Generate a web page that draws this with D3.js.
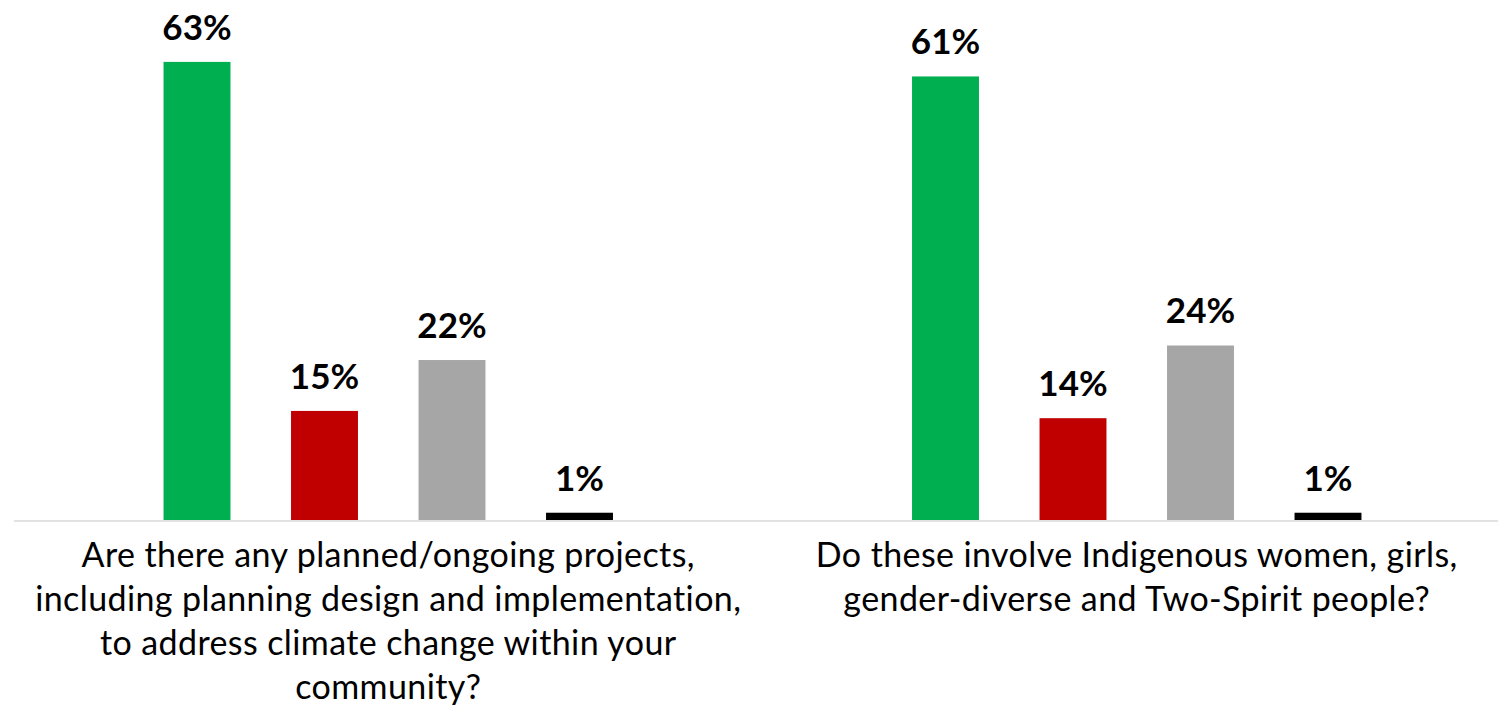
<!DOCTYPE html>
<html>
<head>
<meta charset="utf-8">
<script src="https://cdn.jsdelivr.net/npm/d3@7"></script>
<style>
  body { margin: 0; background: #fff; }
  svg { display: block; }
</style>
</head>
<body>
<div id="chart"></div>
<script>
// chart data
const questions = ["projects", "involve"];
const questionLines = [
  ["Are there any planned/ongoing projects,",
   "including planning design and implementation,",
   "to address climate change within your",
   "community?"],
  ["Do these involve Indigenous women, girls,",
   "gender-diverse and Two-Spirit people?"]
];
const answers = ["Yes", "No", "Don't know", "No response"];
const answerColors = ["#00B050", "#C00000", "#A6A6A6", "#000000"];
const yesValues = [63, 61];
const noValues = [15, 14];
const dontKnowValues = [22, 24];
const noResponseValues = [1, 1];

window.onload = function() {
  const width = 1498, height = 709;
  const baseY = 520;

  const svg = d3.select("#chart").append("svg")
    .attr("width", width)
    .attr("height", height);

  const x0 = d3.scaleBand().domain(questions).range([14, 1511]);
  const x1 = d3.scaleBand().domain(answers).range([-255, 255])
    .paddingInner(0.475).paddingOuter(0.2375);
  const y = d3.scaleLinear().domain([0, 70]).range([baseY, baseY - 509]);

  const series = [yesValues, noValues, dontKnowValues, noResponseValues];
  const rows = [];
  questions.forEach((q, qi) => {
    answers.forEach((a, ai) => {
      rows.push({ q: q, a: a, v: series[ai][qi], color: answerColors[ai] });
    });
  });
  const cx = d => x0(d.q) + x0.bandwidth() / 2;

  // bars
  svg.append("g").selectAll("rect")
    .data(rows)
    .join("rect")
    .attr("x", d => cx(d) + x1(d.a))
    .attr("y", d => y(d.v))
    .attr("width", x1.bandwidth())
    .attr("height", d => y(0) - y(d.v))
    .attr("fill", d => d.color);

  // axis line
  svg.append("line")
    .attr("x1", 14).attr("x2", width)
    .attr("y1", y(0) + 1).attr("y2", y(0) + 1)
    .attr("stroke", "#D9D9D9")
    .attr("stroke-width", 1.5);

  // value labels
  svg.append("g").selectAll("text")
    .data(rows)
    .join("text")
    .attr("x", d => cx(d) + x1(d.a) + x1.bandwidth() / 2)
    .attr("y", d => y(d.v) - 22)
    .attr("text-anchor", "middle")
    .style("font-family", "Lato, 'Open Sans', sans-serif")
    .style("font-weight", "bold")
    .style("font-size", "35px")
    .attr("fill", "#000")
    .text(d => d.v + "%");

  // category labels
  questions.forEach((q, qi) => {
    const t = svg.append("text")
      .attr("text-anchor", "middle")
      .style("font-family", "Lato, 'Open Sans', sans-serif")
      .style("font-size", "34px")
      .style("letter-spacing", "0.4px")
      .attr("fill", "#000");
    questionLines[qi].forEach((line, li) => {
      t.append("tspan")
        .attr("x", x0(q) + x0.bandwidth() / 2)
        .attr("y", 567 + li * 44)
        .text(line);
    });
  });
};
</script>
</body>
</html>
